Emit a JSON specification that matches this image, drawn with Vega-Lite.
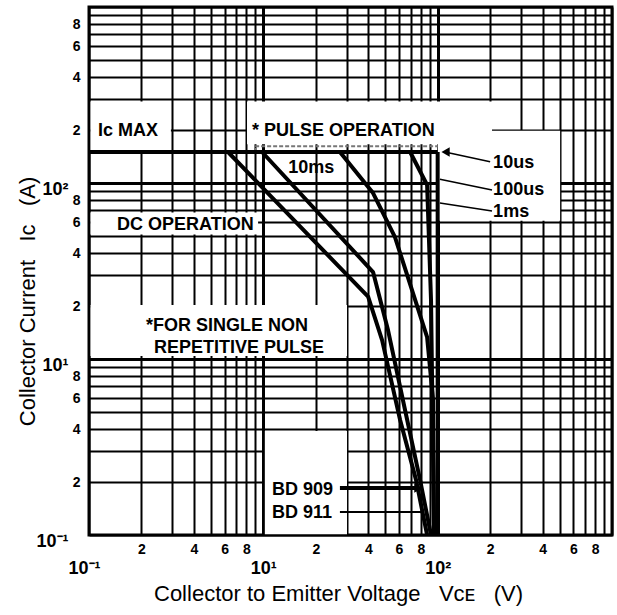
{
  "$schema": "https://vega.github.io/schema/vega-lite/v6.json",
  "width": 523,
  "height": 528,
  "autosize": "none",
  "padding": {"left": 89, "top": 7, "right": 5, "bottom": 80},
  "background": "white",
  "config": {
    "view": {"stroke": "black", "strokeWidth": 3},
    "text": {"font": "Liberation Sans", "fontWeight": "bold", "fontSize": 18, "color": "black"}
  },
  "datasets": {
    "boxes": [
      {"name": "Ic MAX", "x": 1.02, "x2": 2.95, "y": 153, "y2": 290},
      {"name": "pulse", "x": 8.06, "x2": 205, "y": 166, "y2": 290},
      {"name": "us labels", "x": 100, "x2": 504, "y": 61, "y2": 198},
      {"name": "DC", "x": 1.02, "x2": 9.33, "y": 51, "y2": 68},
      {"name": "single", "x": 1.02, "x2": 30.2, "y": 10.4, "y2": 20.3},
      {"name": "BD", "x": 10.2, "x2": 30.2, "y": 1.01, "y2": 3.9}
    ],
    "lines": [
      {"kind": "limit", "series": "Ic MAX", "i": 0, "x": 1, "y": 150},
      {"kind": "limit", "series": "Ic MAX", "i": 1, "x": 100, "y": 150},
      {"kind": "limit", "series": "DC", "i": 0, "x": 6.27, "y": 150},
      {"kind": "limit", "series": "DC", "i": 1, "x": 39.9, "y": 22.6},
      {"kind": "limit", "series": "DC", "i": 2, "x": 48.0, "y": 12.8},
      {"kind": "limit", "series": "DC", "i": 3, "x": 60.9, "y": 4.5},
      {"kind": "limit", "series": "DC", "i": 4, "x": 75.2, "y": 2.05},
      {"kind": "limit", "series": "DC", "i": 5, "x": 87.0, "y": 1},
      {"kind": "limit", "series": "10ms", "i": 0, "x": 9.83, "y": 150},
      {"kind": "limit", "series": "10ms", "i": 1, "x": 42.6, "y": 31.2},
      {"kind": "limit", "series": "10ms", "i": 2, "x": 51.9, "y": 14.6},
      {"kind": "limit", "series": "10ms", "i": 3, "x": 65.0, "y": 5.13},
      {"kind": "limit", "series": "10ms", "i": 4, "x": 79.3, "y": 2.05},
      {"kind": "limit", "series": "10ms", "i": 5, "x": 91.6, "y": 1},
      {"kind": "limit", "series": "1ms", "i": 0, "x": 27.5, "y": 150},
      {"kind": "limit", "series": "1ms", "i": 1, "x": 42.6, "y": 87.7},
      {"kind": "limit", "series": "1ms", "i": 2, "x": 56.9, "y": 49.3},
      {"kind": "limit", "series": "1ms", "i": 3, "x": 87.0, "y": 13.3},
      {"kind": "limit", "series": "1ms", "i": 4, "x": 94.1, "y": 5.85},
      {"kind": "limit", "series": "1ms", "i": 5, "x": 95.4, "y": 1},
      {"kind": "limit", "series": "100us", "i": 0, "x": 69.5, "y": 150},
      {"kind": "limit", "series": "100us", "i": 1, "x": 87.0, "y": 97.4},
      {"kind": "limit", "series": "100us", "i": 2, "x": 91.6, "y": 21.6},
      {"kind": "limit", "series": "100us", "i": 3, "x": 95.4, "y": 1},
      {"kind": "limit", "series": "10us", "i": 0, "x": 100, "y": 150},
      {"kind": "limit", "series": "10us", "i": 1, "x": 100, "y": 1},
      {"kind": "band", "series": "pulse", "i": 0, "x": 8.96, "y": 150},
      {"kind": "band", "series": "pulse", "i": 1, "x": 8.96, "y": 162},
      {"kind": "band", "series": "pulse", "i": 2, "x": 100, "y": 162},
      {"kind": "leader", "series": "10us", "i": 0, "x": 110, "y": 150},
      {"kind": "leader", "series": "10us", "i": 1, "x": 200, "y": 132},
      {"kind": "leader", "series": "100us", "i": 0, "x": 103, "y": 105},
      {"kind": "leader", "series": "100us", "i": 1, "x": 205, "y": 91.2},
      {"kind": "leader", "series": "1ms", "i": 0, "x": 103, "y": 76.9},
      {"kind": "leader", "series": "1ms", "i": 1, "x": 205, "y": 69.3},
      {"kind": "thick", "series": "BD 909", "i": 0, "x": 27.5, "y": 1.85},
      {"kind": "thick", "series": "BD 909", "i": 1, "x": 76, "y": 1.85},
      {"kind": "thin", "series": "BD 911", "i": 0, "x": 27.5, "y": 1.35},
      {"kind": "thin", "series": "BD 911", "i": 1, "x": 82, "y": 1.35}
    ],
    "heads": [
      {"dir": "right", "x": 77.5, "y": 1.85},
      {"dir": "left", "x": 111, "y": 150}
    ],
    "labels": [
      {"text": "Ic MAX", "x": 1.127, "y": 197},
      {"text": "* PULSE OPERATION", "x": 8.61, "y": 197},
      {"text": "10ms", "x": 13.9, "y": 122},
      {"text": "10us", "x": 208, "y": 130},
      {"text": "100us", "x": 208, "y": 91.2},
      {"text": "1ms", "x": 208, "y": 68.4},
      {"text": "DC OPERATION", "x": 1.447, "y": 57.7},
      {"text": "*FOR SINGLE NON", "x": 2.12, "y": 15.4},
      {"text": "REPETITIVE PULSE", "x": 2.36, "y": 11.55},
      {"text": "BD 909", "x": 11.22, "y": 1.8},
      {"text": "BD 911", "x": 11.22, "y": 1.33}
    ]
  },
  "encoding": {
    "x": {
      "field": "x",
      "type": "quantitative",
      "scale": {"type": "log", "domain": [1, 1000], "nice": false},
      "axis": {
        "values": [1,2,3,4,5,6,7,8,9,10,20,30,40,50,60,70,80,90,100,200,300,400,500,600,700,800,900,1000],
        "labelExpr": "datum.value == 1 ? '10⁻¹' : datum.value == 10 ? '10¹' : datum.value == 100 ? '10²' : indexof([2,4,6,8], datum.value) >= 0 ? '' + datum.value : indexof([20,40,60,80], datum.value) >= 0 ? '' + (datum.value / 10) : indexof([200,400,600,800], datum.value) >= 0 ? '' + (datum.value / 100) : ''",
        "labelFont": "Liberation Sans Narrow, Liberation Sans",
        "labelFontWeight": "bold",
        "labelColor": "black",
        "labelFontSize": {"condition": {"test": "datum.value == 1 || datum.value == 10 || datum.value == 100", "value": 18}, "value": 14},
        "labelPadding": {"condition": {"test": "datum.value == 1 || datum.value == 10 || datum.value == 100", "value": 24}, "value": 7},
        "labelOffset": {"condition": {"test": "datum.value == 1", "value": -5}, "value": 0},
        "labelFlush": false,
        "labelOverlap": false,
        "labelBound": false,
        "ticks": false,
        "domain": false,
        "grid": true,
        "gridColor": "black",
        "gridOpacity": 1,
        "gridWidth": {"condition": {"test": "datum.value == 10 || datum.value == 100", "value": 3}, "value": 2},
        "title": "Collector to Emitter Voltage\u00a0\u00a0\u00a0Vᴄᴇ\u00a0\u00a0\u00a0(V)",
        "titleFont": "Liberation Sans",
        "titleFontSize": 22,
        "titleFontWeight": "normal",
        "titleColor": "black",
        "titleX": 249,
        "titleY": 65,
        "titleAlign": "center",
        "titleBaseline": "alphabetic"
      }
    },
    "y": {
      "field": "y",
      "type": "quantitative",
      "scale": {"type": "log", "domain": [1, 1000], "nice": false},
      "axis": {
        "values": [1,2,3,4,5,6,7,8,9,10,20,30,40,50,60,70,80,90,100,200,300,400,500,600,700,800,900,1000],
        "labelExpr": "datum.value == 1 ? '10⁻¹' : datum.value == 10 ? '10¹' : datum.value == 100 ? '10²' : indexof([2,4,6,8], datum.value) >= 0 ? '' + datum.value : indexof([20,40,60,80], datum.value) >= 0 ? '' + (datum.value / 10) : indexof([200,400,600,800], datum.value) >= 0 ? '' + (datum.value / 100) : ''",
        "labelFont": "Liberation Sans Narrow, Liberation Sans",
        "labelFontWeight": "bold",
        "labelColor": "black",
        "labelFontSize": {"condition": {"test": "datum.value == 1 || datum.value == 10 || datum.value == 100", "value": 18}, "value": 14},
        "labelPadding": {"condition": {"test": "datum.value == 1 || datum.value == 10 || datum.value == 100", "value": 21}, "value": 9},
        "labelOffset": {"condition": {"test": "datum.value == 1 || datum.value == 10 || datum.value == 100", "value": 6}, "value": 0},
        "labelFlush": false,
        "labelOverlap": false,
        "labelBound": false,
        "ticks": false,
        "domain": false,
        "grid": true,
        "gridColor": "black",
        "gridOpacity": 1,
        "gridWidth": {"condition": {"test": "datum.value == 10 || datum.value == 100", "value": 3}, "value": 2},
        "title": "Collector Current\u00a0\u00a0\u00a0Ic\u00a0\u00a0\u00a0(A)",
        "titleFont": "Liberation Sans",
        "titleFontSize": 22,
        "titleFontWeight": "normal",
        "titleColor": "black",
        "titleX": -55,
        "titleY": 294,
        "titleAngle": 270,
        "titleAlign": "center",
        "titleBaseline": "alphabetic"
      }
    }
  },
  "layer": [
    {
      "data": {"name": "boxes"},
      "mark": {"type": "rect", "fill": "white", "stroke": null},
      "encoding": {"x2": {"field": "x2"}, "y2": {"field": "y2"}}
    },
    {
      "data": {"name": "lines"},
      "transform": [{"filter": "datum.kind == 'band'"}],
      "mark": {"type": "line", "color": "#777", "strokeWidth": 2, "strokeDash": [4, 2]},
      "encoding": {"detail": {"field": "series"}, "order": {"field": "i"}}
    },
    {
      "data": {"name": "lines"},
      "transform": [{"filter": "datum.kind == 'limit'"}],
      "mark": {"type": "line", "color": "black", "strokeWidth": 4, "strokeJoin": "round"},
      "encoding": {"detail": {"field": "series"}, "order": {"field": "i"}}
    },
    {
      "data": {"name": "lines"},
      "transform": [{"filter": "datum.kind == 'leader'"}],
      "mark": {"type": "line", "color": "black", "strokeWidth": 1.5},
      "encoding": {"detail": {"field": "series"}, "order": {"field": "i"}}
    },
    {
      "data": {"name": "lines"},
      "transform": [{"filter": "datum.kind == 'thick'"}],
      "mark": {"type": "line", "color": "black", "strokeWidth": 4},
      "encoding": {"detail": {"field": "series"}, "order": {"field": "i"}}
    },
    {
      "data": {"name": "lines"},
      "transform": [{"filter": "datum.kind == 'thin'"}],
      "mark": {"type": "line", "color": "black", "strokeWidth": 2},
      "encoding": {"detail": {"field": "series"}, "order": {"field": "i"}}
    },
    {
      "data": {"name": "heads"},
      "mark": {"type": "point", "filled": true, "color": "black", "opacity": 1, "size": 90},
      "encoding": {
        "shape": {"field": "dir", "type": "nominal", "scale": {"domain": ["left", "right"], "range": ["triangle-left", "triangle-right"]}, "legend": null}
      }
    },
    {
      "data": {"name": "labels"},
      "mark": {"type": "text", "align": "left", "baseline": "middle"},
      "encoding": {"text": {"field": "text"}}
    }
  ]
}
